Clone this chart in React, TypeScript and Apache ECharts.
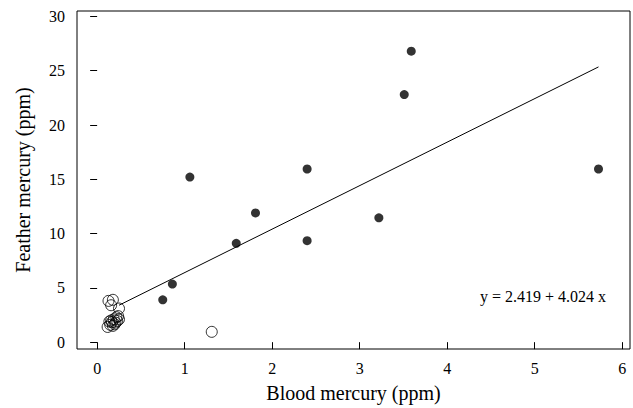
import React, { useEffect, useRef } from "react";
import * as echarts from "echarts";

// Filled points (blood mercury, feather mercury)
const filledX = [0.75, 0.86, 1.06, 1.59, 1.81, 2.4, 2.4, 3.22, 3.51, 3.59, 5.73];
const filledY = [3.9, 5.35, 15.2, 9.1, 11.9, 15.95, 9.35, 11.45, 22.8, 26.8, 15.95];

// Open points
const openX = [0.13, 0.18, 0.16, 0.25, 0.12, 0.15, 0.17, 0.19, 0.22, 0.24, 0.16, 0.21, 0.25, 0.18, 0.14, 0.2, 0.23, 1.31];
const openY = [3.8, 3.9, 3.4, 3.1, 1.4, 1.6, 1.85, 2.1, 2.3, 2.4, 2.0, 1.8, 2.1, 1.5, 1.9, 1.65, 1.95, 0.95];

// Regression line endpoints
const lineX = [0.25, 5.73];
const lineY = [3.4, 25.35];

const xTicks = [0, 1, 2, 3, 4, 5, 6];
const yTicks = [0, 5, 10, 15, 20, 25, 30];

const equationText = "y = 2.419 + 4.024 x";

export default function App() {
  const ref = useRef<HTMLDivElement>(null);
  useEffect(() => {
    if (!ref.current) return;
    const chart = echarts.init(ref.current, undefined, { renderer: "svg" });
    const font = "Liberation Serif";
    chart.setOption({
      animation: false,
      backgroundColor: "#fff",
      grid: {
        left: 77,
        right: 3,
        top: 11,
        bottom: 53,
        show: true,
        borderColor: "#000",
        borderWidth: 1,
        backgroundColor: "transparent",
      },
      xAxis: {
        type: "value",
        min: -0.23,
        max: 6.09,
        name: "Blood mercury (ppm)",
        nameLocation: "middle",
        nameGap: 34,
        nameTextStyle: { fontFamily: font, fontSize: 20, color: "#000" },
        axisLine: { show: false },
        splitLine: { show: false },
        axisTick: {
          show: true,
          length: 7,
          inside: false,
          customValues: xTicks,
          lineStyle: { color: "#000" },
        },
        axisLabel: {
          customValues: xTicks,
          margin: 11,
          fontFamily: font,
          fontSize: 16,
          color: "#000",
        },
      },
      yAxis: {
        type: "value",
        min: -0.63,
        max: 30.5,
        name: "Feather mercury (ppm)",
        nameLocation: "middle",
        nameGap: 44,
        nameTextStyle: { fontFamily: font, fontSize: 20, color: "#000" },
        axisLine: { show: false },
        splitLine: { show: false },
        axisTick: {
          show: true,
          length: 7,
          inside: false,
          customValues: yTicks,
          lineStyle: { color: "#000" },
        },
        axisLabel: {
          customValues: yTicks,
          margin: 12,
          fontFamily: font,
          fontSize: 16,
          color: "#000",
        },
      },
      graphic: [
        {
          type: "text",
          right: 27,
          top: 288,
          style: {
            text: equationText,
            fontFamily: font,
            fontSize: 16,
            fill: "#000",
          },
        },
      ],
      series: [
        {
          type: "line",
          data: lineX.map((x, i) => [x, lineY[i]]),
          showSymbol: false,
          symbol: "none",
          lineStyle: { color: "#000", width: 1 },
          z: 1,
        },
        {
          type: "scatter",
          data: openX.map((x, i) => [x, openY[i]]),
          symbol: "circle",
          symbolSize: 11,
          itemStyle: { color: "rgba(0,0,0,0)", borderColor: "#000", borderWidth: 1 },
          z: 2,
        },
        {
          type: "scatter",
          data: filledX.map((x, i) => [x, filledY[i]]),
          symbol: "circle",
          symbolSize: 9,
          itemStyle: { color: "#000" },
          z: 3,
        },
      ],
    });
    return () => chart.dispose();
  }, []);
  return (
    <div
      ref={ref}
      style={{ position: "fixed", left: 0, top: 0, width: 633, height: 408 }}
    />
  );
}
